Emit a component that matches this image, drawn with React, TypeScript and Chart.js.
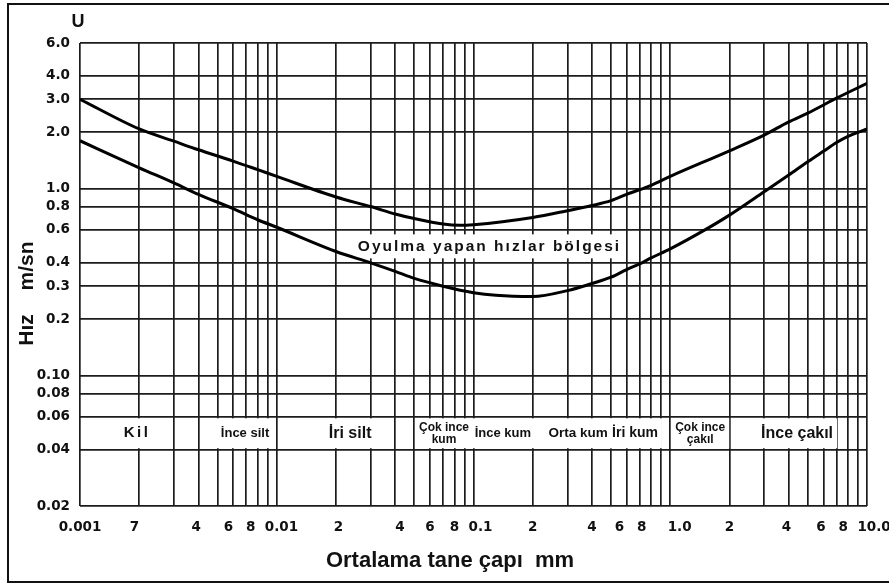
import React, { useEffect, useRef } from 'react';
import { Chart, registerables } from 'chart.js';

Chart.register(...registerables);

// ---- Data ----
const upperX = [0.001, 0.002, 0.003, 0.004, 0.006, 0.008, 0.01, 0.02, 0.03, 0.04, 0.05, 0.07, 0.085, 0.1, 0.2, 0.3, 0.4, 0.5, 0.6, 0.8, 1, 2, 3, 4, 5, 7, 10];
const upperY = [3.0, 2.08, 1.79, 1.61, 1.4, 1.26, 1.16, 0.9, 0.8, 0.73, 0.69, 0.645, 0.635, 0.64, 0.7, 0.76, 0.81, 0.86, 0.93, 1.04, 1.16, 1.59, 1.93, 2.27, 2.53, 3.04, 3.65];

const lowerX = [0.001, 0.002, 0.003, 0.004, 0.006, 0.008, 0.01, 0.02, 0.03, 0.04, 0.05, 0.07, 0.1, 0.13, 0.2, 0.3, 0.4, 0.5, 0.6, 0.7, 0.8, 1, 1.5, 2, 3, 4, 5, 6, 7, 8, 10];
const lowerY = [1.8, 1.29, 1.07, 0.93, 0.78, 0.68, 0.62, 0.46, 0.4, 0.36, 0.33, 0.3, 0.277, 0.268, 0.264, 0.284, 0.31, 0.335, 0.368, 0.395, 0.425, 0.475, 0.6, 0.72, 0.96, 1.18, 1.39, 1.58, 1.76, 1.9, 2.08];

const xTickValues = [
  0.001, 0.002, 0.003, 0.004, 0.005, 0.006, 0.007, 0.008, 0.009,
  0.01, 0.02, 0.03, 0.04, 0.05, 0.06, 0.07, 0.08, 0.09,
  0.1, 0.2, 0.3, 0.4, 0.5, 0.6, 0.7, 0.8, 0.9,
  1, 2, 3, 4, 5, 6, 7, 8, 9,
  10,
];
// labels as printed in the reference (padding spaces reproduce their hand placement)
const xTickLabels = [
  '0.001', '7  ', '', '4 ', '', '6  ', '', '8   ', '',
  '  0.01', ' 2', '', '  4', '', '6', '', '8', '',
  '   0.1', '2', '', '4', '', '6   ', '', '8    ', '',
  '    1.0', '2', '', '4 ', '', '6 ', '', '8  ', '',
  '   10.0',
];

const yTickValues = [0.02, 0.04, 0.06, 0.08, 0.1, 0.2, 0.3, 0.4, 0.6, 0.8, 1, 2, 3, 4, 6];
const yTickLabels = ['0.02', '0.04', '0.06', '0.08', '0.10', '0.2', '0.3', '0.4', '0.6', '0.8', '1.0', '2.0', '3.0', '4.0', '6.0'];

const regionNames = ['Kil', 'İnce silt', 'İri silt', 'Çok ince\nkum', 'İnce kum', 'Orta kum', 'İri kum', 'Çok ince\nçakıl', 'İnce çakıl'];
const regionCenters = [0.00195, 0.0069, 0.0236, 0.0708, 0.141, 0.34, 0.662, 1.42, 4.41];
const bandTopValue = 0.06;
const bandBottomValue = 0.04;

const zoneText = 'Oyulma yapan hızlar bölgesi';
const zoneX = 0.1206;
const zoneY = 0.49;

const xTitle = 'Ortalama tane çapı  mm';
const yTitleA = 'Hız';
const yTitleB = 'm/sn';
const cornerLabel = 'U';

// ---- Styles ----
const regionFontSizes = [15, 13, 16, 12, 13, 13.5, 14, 12, 16];
const regionSpacing = [2.5, 0, 0, 0, 0, 0, 0, 0, 0];
const SANS = '"Liberation Sans", Arial, sans-serif';
const INK = '#111';

const annotPlugin = {
  id: 'annot',
  beforeDatasetsDraw(chart: any) {
    const { ctx, scales } = chart;
    const xs = scales.x;
    const ys = scales.y;
    ctx.save();
    const yTop = ys.getPixelForValue(bandTopValue) + 1.5;
    const yBot = ys.getPixelForValue(bandBottomValue) - 1.5;
    const yMid = (yTop + yBot) / 2;
    regionNames.forEach((name, i) => {
      const lines = name.split('\n');
      ctx.font = `bold ${regionFontSizes[i]}px ${SANS}`;
      (ctx as any).letterSpacing = `${regionSpacing[i]}px`;
      const w = Math.max(...lines.map((l: string) => ctx.measureText(l).width));
      const cx = xs.getPixelForValue(regionCenters[i]);
      ctx.fillStyle = '#fff';
      ctx.fillRect(cx - w / 2 - 4, yTop, w + 8, yBot - yTop);
      ctx.fillStyle = INK;
      ctx.textAlign = 'center';
      ctx.textBaseline = 'middle';
      if (lines.length === 1) {
        ctx.fillText(lines[0], cx, yMid);
      } else {
        ctx.fillText(lines[0], cx, yMid - 6);
        ctx.fillText(lines[1], cx, yMid + 6.5);
      }
    });
    // zone text
    ctx.font = `bold 15.5px ${SANS}`;
    (ctx as any).letterSpacing = '2px';
    const zw = ctx.measureText(zoneText).width;
    const zx = xs.getPixelForValue(zoneX);
    const zy = ys.getPixelForValue(zoneY);
    ctx.fillStyle = '#fff';
    ctx.fillRect(zx - zw / 2 - 4, zy - 12, zw + 8, 24);
    ctx.fillStyle = INK;
    ctx.textAlign = 'center';
    ctx.textBaseline = 'middle';
    ctx.fillText(zoneText, zx, zy);
    (ctx as any).letterSpacing = '0px';
    ctx.restore();
  },
  afterDraw(chart: any) {
    const { ctx } = chart;
    ctx.save();
    // outer frame (right side runs off the picture, as in the reference)
    ctx.strokeStyle = '#111';
    ctx.lineWidth = 2;
    ctx.strokeRect(8, 4, 900, 578);
    ctx.fillStyle = INK;
    ctx.textAlign = 'center';
    ctx.textBaseline = 'middle';
    ctx.font = `bold 18px ${SANS}`;
    ctx.fillText(cornerLabel, 78, 22);
    ctx.font = `bold 22px ${SANS}`;
    ctx.textBaseline = 'alphabetic';
    ctx.fillText(xTitle, 450, 567);
    ctx.font = `bold 21px ${SANS}`;
    ctx.textBaseline = 'middle';
    ctx.save();
    ctx.translate(27, 330);
    ctx.rotate(-Math.PI / 2);
    ctx.fillText(yTitleA, 0, 0);
    ctx.restore();
    ctx.save();
    ctx.translate(27, 266);
    ctx.rotate(-Math.PI / 2);
    ctx.fillText(yTitleB, 0, 0);
    ctx.restore();
    ctx.restore();
  },
};

export default function App() {
  const ref = useRef<HTMLCanvasElement>(null);
  useEffect(() => {
    const canvas = ref.current!;
    const lineStyle = {
      borderColor: '#000',
      borderWidth: 3,
      pointRadius: 0,
      fill: false,
      cubicInterpolationMode: 'monotone' as const,
    };
    const tickFont = { family: '"DejaVu Sans", sans-serif', weight: 'bold' as const, size: 13.5 };
    const chart = new Chart(canvas, {
      type: 'line',
      data: {
        datasets: [
          { ...lineStyle, data: upperX.map((x, i) => ({ x, y: upperY[i] })) },
          { ...lineStyle, data: lowerX.map((x, i) => ({ x, y: lowerY[i] })) },
        ],
      },
      options: {
        animation: false,
        responsive: false,
        devicePixelRatio: 1,
        layout: { padding: { top: 43, right: 22, left: 0, bottom: 0 } },
        plugins: { legend: { display: false }, tooltip: { enabled: false } },
        scales: {
          x: {
            type: 'logarithmic',
            min: 0.001,
            max: 10,
            position: 'bottom',
            afterBuildTicks: (s: any) => {
              s.ticks = xTickValues.map((v) => ({ value: v }));
            },
            afterFit: (s: any) => {
              s.height = 80;
              s.paddingLeft = 0;
              s.paddingRight = 0;
            },
            grid: { color: '#1c1c1c', lineWidth: 1.7, drawTicks: false },
            border: { display: false },
            ticks: {
              autoSkip: false,
              maxRotation: 0,
              minRotation: 0,
              padding: 13,
              color: INK,
              font: tickFont,
              callback: (_v: any, i: number) => xTickLabels[i],
            },
          },
          y: {
            type: 'logarithmic',
            min: 0.02,
            max: 6,
            position: 'left',
            afterBuildTicks: (s: any) => {
              s.ticks = yTickValues.map((v) => ({ value: v }));
            },
            afterFit: (s: any) => {
              s.width = 80;
              s.paddingTop = 0;
              s.paddingBottom = 0;
            },
            grid: { color: '#1c1c1c', lineWidth: 1.7, drawTicks: false },
            border: { display: false },
            ticks: {
              autoSkip: false,
              padding: 10,
              color: INK,
              font: tickFont,
              callback: (_v: any, i: number) => yTickLabels[i],
            },
          },
        },
      },
      plugins: [annotPlugin],
    } as any);
    return () => chart.destroy();
  }, []);
  return (
    <div style={{ position: 'fixed', left: 0, top: 0, width: 889, height: 586, background: '#fff' }}>
      <canvas ref={ref} width={889} height={586} style={{ display: 'block', width: 889, height: 586 }} />
    </div>
  );
}
